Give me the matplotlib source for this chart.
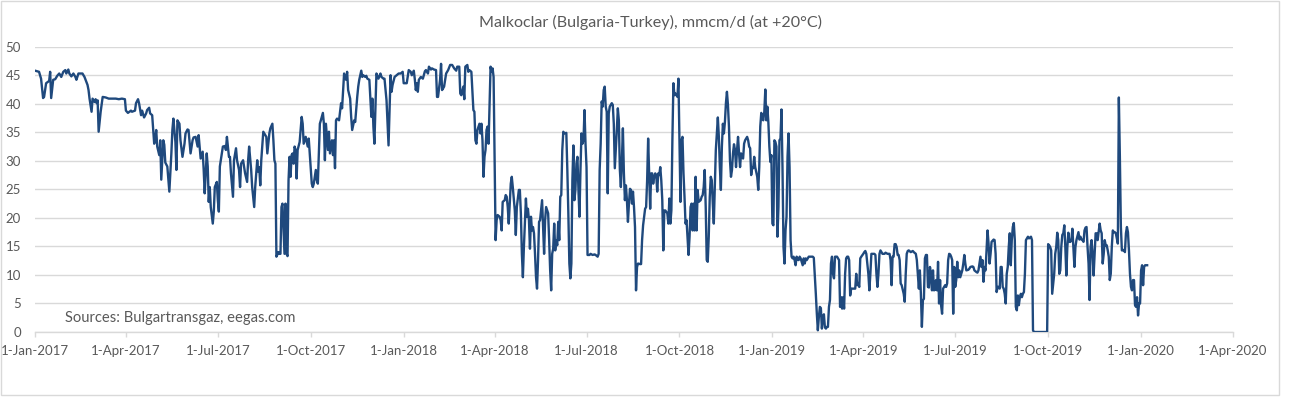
import datetime as dt
import matplotlib
matplotlib.use("Agg")
import matplotlib.pyplot as plt
from matplotlib.patches import Rectangle

plt.rcParams['font.family'] = ['Lato', 'DejaVu Sans']

START = dt.date(2017, 1, 1)
title = "Malkoclar (Bulgaria-Turkey), mmcm/d (at +20°C)"
source_note = "Sources: Bulgartransgaz, eegas.com"

# day offsets from 1-Jan-2017 and flows (mmcm/d)
days_2017 = [0, 4, 6, 8, 9, 11, 14, 15, 16, 18, 20, 22, 24, 26, 28, 30, 31, 33, 34, 36, 38, 40, 41, 43, 47, 49,
             52, 53, 54, 56, 57, 59, 60, 61, 62, 63, 65, 67, 70, 73, 76, 80, 83, 86, 89, 90, 92, 95, 96, 99, 100,
             102, 103, 105, 106, 108, 110, 111, 113, 114, 116, 118, 119, 120, 121, 123, 124, 125, 127, 128, 129,
             131, 133, 135, 136, 137, 139, 140, 141, 143, 144, 146, 148, 149, 151, 152, 154, 156, 157, 159, 161,
             162, 164, 166, 167, 168, 170, 171, 172, 173, 174, 176, 177, 178, 180, 181, 182, 183, 185, 186, 188,
             189, 190, 192, 193, 194, 196, 197, 199, 200, 202, 203, 204, 206, 208, 210, 211, 212, 214, 215, 217,
             218, 220, 221, 222, 223, 224, 226, 227, 229, 230, 232, 233, 235, 236, 237, 238, 239, 241, 242, 243,
             244, 245, 247, 248, 249, 250, 251, 252, 253, 254, 255, 256, 257, 258, 259, 260, 262, 263, 264, 265,
             266, 268, 270, 271, 272, 273, 274, 275, 276, 278, 279, 280, 282, 283, 285, 286, 287, 288, 290, 291,
             292, 294, 295, 296, 297, 298, 299, 301, 303, 304, 306, 308, 309, 310, 312, 313, 314, 316, 317, 319,
             320, 321, 323, 324, 325, 327, 328, 329, 331, 332, 333, 334, 335, 336, 337, 338, 340, 342, 343, 345,
             346, 348, 349, 350, 351, 352, 353, 354, 356, 358, 360, 362, 364]
flow_2017 = [45.8, 45.6, 44.4, 41.0, 41.2, 43.6, 44.0, 45.6, 41.0, 44.2, 44.3, 44.9, 45.3, 44.7, 45.6, 45.9, 45.3,
             46.0, 45.3, 44.8, 45.3, 44.7, 44.2, 45.3, 45.3, 44.7, 43.3, 42.4, 40.9, 38.6, 40.9, 40.3, 40.8, 40.1,
             40.6, 35.1, 38.6, 41.2, 41.1, 40.9, 40.9, 40.9, 40.8, 40.9, 40.8, 38.8, 38.4, 38.8, 38.6, 38.8, 40.1,
             40.8, 40.1, 38.0, 38.8, 37.6, 38.3, 38.9, 39.3, 38.3, 38.0, 33.0, 33.9, 35.4, 32.5, 31.0, 33.6, 26.7,
             33.6, 32.8, 29.7, 29.0, 24.6, 31.3, 35.4, 37.4, 33.3, 28.4, 37.1, 36.5, 33.6, 30.7, 33.0, 34.8, 35.5,
             35.4, 31.3, 33.6, 34.1, 34.2, 32.5, 34.5, 30.4, 31.6, 28.4, 24.3, 31.3, 29.0, 22.8, 25.4, 21.9, 19.0,
             21.1, 25.4, 26.3, 23.1, 21.1, 29.0, 31.3, 32.5, 32.6, 31.9, 34.2, 30.7, 30.7, 27.8, 23.7, 30.1, 32.2,
             30.1, 28.4, 25.4, 29.5, 30.1, 27.8, 26.3, 30.1, 32.5, 28.4, 25.4, 21.9, 25.4, 30.1, 28.1, 28.9, 25.7,
             30.1, 35.1, 34.8, 34.2, 31.3, 34.8, 35.7, 36.5, 33.6, 30.1, 29.5, 13.2, 14.0, 13.7, 13.7, 21.9, 22.5,
             13.7, 22.5, 13.7, 13.3, 26.6, 30.7, 27.2, 31.0, 31.3, 29.5, 32.5, 31.9, 26.9, 31.9, 33.3, 35.4, 37.7,
             36.5, 33.0, 34.2, 32.5, 33.9, 31.3, 28.9, 26.0, 25.4, 26.0, 28.4, 26.6, 26.0, 36.5, 37.1, 38.4, 36.5,
             30.1, 36.5, 31.9, 35.1, 31.3, 33.6, 31.0, 33.6, 28.7, 37.1, 37.4, 37.1, 40.1, 39.2, 45.3, 44.2, 45.6,
             42.4, 40.9, 37.7, 35.4, 37.1, 36.8, 41.2, 43.0, 44.2, 45.8, 44.7, 45.0, 44.7, 44.9, 44.4, 44.2, 40.9,
             37.7, 40.9, 36.0, 33.0, 39.5, 45.3, 44.4, 45.3, 44.7, 44.4, 44.4, 40.6, 36.5, 32.7, 38.9, 45.0, 42.1,
             43.3, 44.7, 45.0, 45.3, 45.3, 45.6]

days_2018 = [365, 367, 368, 370, 372, 373, 375, 376, 377, 378, 379, 380, 382, 384, 386, 387, 389, 390, 392, 393,
             395, 397, 398, 399, 401, 402, 403, 405, 406, 407, 409, 411, 413, 415, 417, 418, 420, 421, 422, 424,
             425, 426, 428, 429, 430, 432, 433, 434, 435, 436, 437, 438, 440, 441, 442, 443, 444, 445, 446, 447,
             448, 449, 450, 451, 452, 453, 454, 456, 457, 458, 460, 461, 462, 463, 465, 466, 467, 468, 469, 471,
             472, 473, 475, 476, 477, 479, 480, 481, 482, 483, 484, 486, 487, 488, 489, 490, 491, 492, 493, 494,
             495, 496, 497, 498, 499, 500, 502, 503, 504, 505, 506, 508, 509, 510, 511, 512, 513, 514, 515, 516,
             517, 518, 519, 520, 521, 522, 523, 524, 526, 527, 528, 529, 530, 531, 532, 533, 534, 535, 536, 537,
             538, 539, 540, 541, 542, 543, 544, 545, 546, 547, 549, 550, 552, 554, 555, 557, 558, 559, 560, 561,
             562, 563, 564, 565, 566, 567, 568, 569, 571, 572, 573, 574, 576, 577, 578, 579, 580, 581, 582, 583,
             584, 585, 586, 587, 588, 589, 590, 591, 592, 593, 594, 595, 596, 597, 599, 600, 601, 602, 604, 605,
             606, 607, 608, 609, 610, 611, 612, 613, 614, 615, 616, 617, 618, 619, 620, 621, 622, 623, 624, 626,
             627, 628, 629, 630, 631, 632, 633, 634, 636, 637, 638, 639, 640, 641, 642, 643, 644, 645, 646, 647,
             648, 649, 650, 651, 652, 653, 654, 655, 656, 657, 659, 660, 661, 662, 663, 664, 665, 666, 667, 668,
             669, 670, 671, 672, 673, 674, 676, 677, 678, 679, 680, 681, 682, 683, 684, 685, 686, 687, 688, 689,
             690, 691, 692, 693, 694, 695, 696, 697, 698, 699, 700, 701, 702, 703, 705, 706, 707, 708, 709, 710,
             711, 712, 713, 715, 716, 717, 718, 719, 720, 721, 722, 723, 724, 725, 726, 727, 728, 729]
flow_2018 = [43.6, 43.6, 43.6, 45.9, 45.6, 45.0, 45.8, 44.3, 42.4, 43.6, 42.1, 44.2, 44.7, 44.4, 45.7, 45.9, 45.3,
             46.5, 46.0, 46.2, 46.0, 45.9, 41.2, 41.2, 44.2, 47.0, 42.4, 43.0, 44.2, 45.3, 45.9, 46.8, 46.8, 46.2,
             45.8, 46.5, 46.5, 41.8, 41.5, 43.0, 40.8, 46.5, 46.8, 45.6, 45.9, 45.6, 42.4, 38.9, 38.6, 33.6, 33.0,
             35.4, 36.5, 34.8, 36.5, 33.6, 27.2, 30.7, 31.9, 35.4, 36.0, 33.0, 39.5, 46.5, 45.6, 46.2, 44.7, 16.1,
             19.6, 20.5, 20.2, 19.6, 17.8, 22.8, 23.1, 24.0, 23.7, 21.9, 19.0, 26.0, 27.2, 25.4, 21.3, 17.0, 21.9,
             24.9, 24.9, 20.8, 13.7, 9.6, 14.9, 23.4, 20.2, 21.6, 19.6, 14.6, 20.2, 17.8, 18.4, 17.3, 13.7, 9.6,
             7.6, 12.6, 19.3, 19.6, 23.1, 18.4, 13.7, 19.6, 21.9, 20.8, 16.1, 10.8, 7.3, 13.7, 14.6, 19.0, 14.3,
             16.1, 15.2, 19.3, 16.1, 23.7, 24.0, 31.9, 35.1, 34.8, 34.9, 28.4, 20.8, 12.0, 9.4, 12.0, 26.6, 32.7,
             23.1, 24.9, 29.5, 30.7, 24.9, 20.2, 28.4, 34.8, 33.0, 33.6, 38.9, 33.0, 28.9, 13.5, 13.5, 13.7, 13.5,
             13.6, 13.5, 13.2, 13.7, 28.4, 33.0, 40.4, 39.5, 42.4, 43.0, 39.5, 38.6, 24.3, 38.3, 39.5, 40.1, 39.8,
             36.5, 28.7, 35.4, 39.2, 37.1, 28.4, 25.4, 30.1, 35.7, 27.8, 23.1, 25.7, 23.1, 19.3, 22.5, 25.1, 24.9,
             22.5, 24.6, 21.9, 18.4, 7.3, 11.4, 12.0, 11.9, 11.9, 16.1, 18.7, 21.6, 21.9, 26.6, 33.9, 27.8, 21.6,
             27.8, 27.8, 26.0, 27.2, 27.8, 27.5, 24.6, 27.8, 27.5, 28.9, 26.6, 23.1, 14.3, 21.3, 21.3, 20.8, 19.0,
             23.4, 19.0, 21.3, 33.6, 43.6, 41.5, 41.8, 41.2, 44.4, 33.6, 22.8, 33.6, 34.2, 27.8, 23.7, 19.0, 19.6,
             16.7, 13.5, 16.7, 21.9, 22.5, 17.8, 22.5, 17.8, 27.2, 17.8, 24.9, 22.8, 23.1, 23.7, 24.0, 25.4, 28.4,
             21.9, 12.6, 12.3, 16.7, 23.7, 27.2, 26.6, 22.5, 19.0, 25.4, 31.9, 37.6, 34.2, 28.9, 24.9, 32.5, 36.5,
             34.8, 36.8, 40.1, 42.1, 39.8, 36.0, 30.1, 27.2, 28.4, 31.3, 32.9, 31.9, 28.9, 31.9, 34.2, 31.3, 28.9,
             31.3, 30.7, 30.4, 33.0, 33.6, 34.2, 33.6, 32.5, 32.2, 27.5, 28.9, 28.7, 30.7, 28.9, 27.2, 24.9, 28.9,
             36.0, 38.4, 37.4, 37.1, 38.6, 42.5, 37.1, 39.5, 36.8, 32.5, 29.8, 31.0]

days_2019 = [730, 731, 732, 733, 734, 735, 736, 737, 738, 739, 740, 741, 742, 743, 744, 745, 746, 747, 748, 749,
             750, 751, 752, 753, 754, 755, 756, 757, 758, 759, 760, 761, 762, 763, 764, 765, 766, 768, 770, 771,
             773, 774, 775, 776, 777, 778, 779, 780, 781, 782, 783, 784, 785, 786, 787, 788, 789, 790, 791, 792,
             793, 794, 796, 797, 798, 799, 800, 801, 802, 803, 804, 805, 806, 807, 808, 809, 811, 812, 813, 814,
             815, 816, 817, 818, 820, 821, 822, 823, 825, 826, 827, 828, 829, 831, 832, 833, 834, 835, 836, 837,
             838, 839, 841, 842, 844, 846, 847, 848, 849, 850, 851, 852, 853, 854, 855, 856, 857, 858, 860, 861,
             862, 863, 864, 865, 867, 869, 870, 872, 873, 874, 875, 876, 877, 878, 879, 880, 881, 882, 883, 884,
             885, 886, 887, 888, 889, 890, 891, 892, 893, 894, 895, 896, 897, 898, 899, 900, 901, 902, 903, 904,
             905, 906, 907, 908, 909, 910, 911, 912, 913, 914, 915, 916, 917, 918, 919, 920, 921, 922, 924, 925,
             926, 928, 929, 930, 932, 933, 934, 936, 937, 938, 939, 940, 941, 942, 943, 944, 945, 946, 947, 949,
             950, 951, 952, 953, 954, 955, 956, 957, 958, 959, 960, 961, 962, 963, 964, 965, 966, 967, 968, 969,
             970, 971, 972, 973, 974, 975, 976, 977, 978, 979, 980, 981, 982, 983, 984, 986, 987, 988, 989, 1002,
             1003, 1004, 1005, 1006, 1007, 1009, 1010, 1011, 1012, 1013, 1014, 1015, 1016, 1017, 1018, 1019, 1020,
             1021, 1022, 1023, 1024, 1025, 1026, 1027, 1028, 1029, 1030, 1031, 1033, 1034, 1035, 1036, 1037, 1038,
             1039, 1040, 1041, 1042, 1043, 1044, 1045, 1046, 1047, 1048, 1049, 1050, 1051, 1052, 1053, 1054, 1055,
             1056, 1057, 1058, 1059, 1060, 1061, 1062, 1063, 1064, 1065, 1066, 1067, 1068, 1069, 1070, 1071, 1072,
             1073, 1074, 1075, 1076, 1077, 1078, 1079, 1080, 1081, 1082, 1083, 1084, 1085, 1086, 1087, 1088, 1089,
             1090, 1091, 1092, 1093, 1094]
flow_2019 = [19.0, 18.7, 33.6, 33.3, 32.5, 16.7, 21.9, 33.6, 33.9, 39.0, 28.9, 14.9, 12.0, 17.8, 20.2, 30.7, 34.8,
             28.9, 16.1, 13.2, 12.9, 13.2, 12.6, 11.7, 13.2, 12.7, 12.6, 13.2, 12.9, 12.3, 11.7, 12.9, 12.0, 12.9,
             12.6, 12.9, 13.2, 13.2, 13.2, 13.0, 6.7, 3.2, 0.3, 2.6, 4.4, 4.2, 0.6, 2.6, 3.1, 0.8, 0.6, 0.9, 0.9,
             4.4, 5.6, 12.0, 13.2, 10.2, 9.4, 13.2, 13.2, 13.2, 12.6, 4.4, 6.1, 4.1, 6.1, 4.1, 10.2, 12.9, 13.2,
             13.2, 12.6, 6.4, 7.6, 7.6, 7.6, 7.6, 10.2, 8.2, 8.5, 7.9, 12.9, 13.2, 13.7, 14.0, 14.2, 13.7, 10.2,
             7.3, 10.2, 13.7, 13.7, 13.7, 13.5, 10.2, 7.9, 10.2, 13.7, 14.3, 14.0, 13.7, 13.7, 13.9, 13.7, 13.7,
             12.6, 8.2, 13.2, 13.2, 15.4, 15.4, 14.9, 13.5, 13.5, 12.6, 8.5, 8.2, 6.7, 5.3, 10.2, 13.7, 14.2, 14.3,
             14.0, 14.2, 14.0, 13.7, 12.6, 10.2, 7.6, 10.8, 6.7, 0.9, 5.6, 5.8, 12.9, 13.5, 13.5, 7.9, 7.8, 11.4,
             10.2, 7.3, 10.8, 7.3, 7.4, 9.1, 7.3, 12.3, 5.0, 9.1, 4.7, 3.2, 7.6, 7.9, 8.2, 7.9, 8.5, 12.6, 13.7,
             13.6, 13.2, 12.6, 3.2, 11.4, 7.9, 9.1, 12.3, 9.6, 10.8, 9.6, 10.2, 10.8, 12.0, 13.5, 12.0, 10.8, 10.9,
             11.1, 11.4, 11.5, 11.4, 10.8, 10.5, 10.4, 10.8, 13.2, 11.4, 12.6, 8.8, 11.4, 10.8, 14.3, 17.8, 15.5,
             12.0, 13.7, 15.8, 16.2, 16.1, 13.7, 7.0, 7.9, 7.9, 7.6, 11.4, 11.4, 7.9, 7.6, 6.7, 5.0, 10.2, 11.4,
             14.9, 17.3, 11.7, 16.1, 18.4, 19.1, 16.1, 4.4, 3.8, 6.4, 4.7, 6.1, 6.7, 6.1, 6.7, 7.0, 10.2, 16.1,
             16.4, 16.7, 16.4, 16.7, 16.1, 0.3, 0.0, 0.0, 15.4, 15.2, 14.9, 14.3, 6.7, 10.2, 13.7, 14.9, 17.4,
             16.1, 10.2, 10.8, 14.9, 17.0, 17.3, 18.7, 14.9, 9.9, 14.9, 17.4, 15.8, 15.8, 16.1, 18.1, 14.9, 11.4,
             14.9, 16.1, 17.5, 16.2, 16.7, 16.2, 16.1, 15.8, 17.8, 18.3, 18.4, 14.9, 12.0, 5.6, 14.9, 16.1, 13.7,
             9.9, 13.7, 17.3, 17.3, 16.1, 17.5, 19.0, 17.8, 17.3, 12.0, 13.7, 16.1, 15.2, 15.2, 14.3, 13.2, 9.1,
             10.2, 14.9, 17.8, 17.5, 17.5, 17.3, 16.4, 15.5, 41.1, 30.7, 18.4, 14.3, 14.3, 14.4, 14.0, 17.3, 18.4,
             17.5, 14.3, 10.2, 7.9, 7.3, 9.1, 9.1, 4.7, 4.4, 6.1, 2.9, 5.0, 5.0]

days_2020 = [1095, 1096, 1097, 1098, 1099, 1100, 1101]
flow_2020 = [10.8, 11.7, 8.2, 11.4, 11.7, 11.7, 11.7]

tick_dates = [dt.date(2017, 1, 1), dt.date(2017, 4, 1), dt.date(2017, 7, 1), dt.date(2017, 10, 1),
              dt.date(2018, 1, 1), dt.date(2018, 4, 1), dt.date(2018, 7, 1), dt.date(2018, 10, 1),
              dt.date(2019, 1, 1), dt.date(2019, 4, 1), dt.date(2019, 7, 1), dt.date(2019, 10, 1),
              dt.date(2020, 1, 1), dt.date(2020, 4, 1)]
tick_labels = ["1-Jan-2017", "1-Apr-2017", "1-Jul-2017", "1-Oct-2017", "1-Jan-2018", "1-Apr-2018",
               "1-Jul-2018", "1-Oct-2018", "1-Jan-2019", "1-Apr-2019", "1-Jul-2019", "1-Oct-2019",
               "1-Jan-2020", "1-Apr-2020"]
y_ticks = [0, 5, 10, 15, 20, 25, 30, 35, 40, 45, 50]

days = days_2017 + days_2018 + days_2019 + days_2020
flow = flow_2017 + flow_2018 + flow_2019 + flow_2020
dates = [START + dt.timedelta(days=d) for d in days]

W, H = 1296, 397
fig = plt.figure(figsize=(W / 100, H / 100), dpi=100)
fig.patch.set_facecolor('white')
ax = fig.add_axes([35 / W, 1 - 332 / H, (1233 - 35) / W, (332 - 46.7) / H])

ax.plot(dates, flow, color='#1F497D', lw=1.7, solid_joinstyle='round', zorder=3)

ax.set_ylim(0, 50)
ax.set_xlim(tick_dates[0], tick_dates[-1])
ax.set_yticks(y_ticks)
ax.set_xticks(tick_dates)
ax.set_xticklabels(tick_labels)
ax.grid(axis='y', color='#d9d9d9', lw=1)
ax.grid(axis='x', visible=False)
ax.set_axisbelow(True)
for s in ['left', 'top', 'right']:
    ax.spines[s].set_visible(False)
ax.spines['bottom'].set_color('#d9d9d9')
ax.spines['bottom'].set_linewidth(1)
ax.tick_params(axis='y', length=0, pad=10, labelcolor='#595959', labelsize=9.5)
ax.tick_params(axis='x', length=3.3, width=1, color='#d9d9d9', direction='out', pad=6,
               labelcolor='#595959', labelsize=9.5)

fig.text(651 / W, 1 - 22 / H, title, ha='center', va='center', fontsize=11.6, color='#595959')
fig.text(65 / W, 1 - 318 / H, source_note, ha='left', va='center', fontsize=10.6, color='#595959')

fig.add_artist(Rectangle((1 / W, 1 - 394.5 / H), 1278 / W, 393.5 / H, transform=fig.transFigure,
                         fill=False, edgecolor='#d9d9d9', lw=1))

fig.savefig('out.png', dpi=100)
